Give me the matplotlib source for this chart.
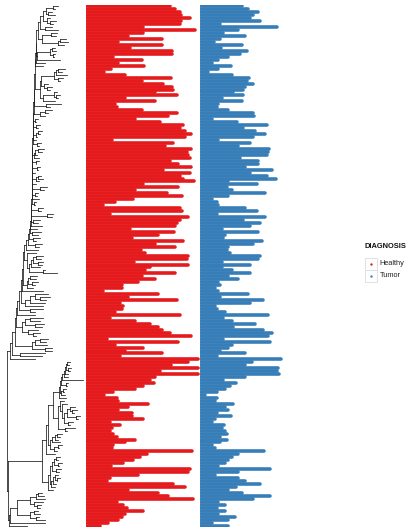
import numpy as np
import matplotlib.pyplot as plt
from matplotlib.collections import LineCollection
from matplotlib.patches import Rectangle

W, H = 408, 529

# per-sample values, top to bottom in tree order
healthy = [257, 272, 287, 290, 317, 290, 287, 177, 332, 177, 132, 232, 102, 232, 137, 264, 264, 87, 172, 100,
           180, 80, 60, 122, 260, 172, 237, 262, 267, 212, 277, 122, 212, 92,
           97, 172, 277, 252, 152, 227, 297, 287, 302, 320, 302, 82, 267, 242, 320, 307, 312, 317, 257, 282,
           320, 237, 317, 287, 297, 330, 177, 282, 152, 247, 292, 147, 92, 57,
           287, 292, 77, 310, 287, 277, 272, 137, 270, 220, 142, 297, 212, 272, 170, 182, 310, 307, 150, 310,
           197, 182, 272, 172, 212, 162, 112, 112, 57, 222, 132, 277, 107, 117,
           112, 92, 287, 77, 152, 197, 222, 232, 257, 320, 67, 280, 92, 177, 122, 232, 107, 342, 312, 260,
           342, 227, 342, 212, 197, 210, 177, 152, 87, 60, 97, 102, 192, 132, 102, 142,
           142, 177, 77, 107, 82, 77, 87, 97, 152, 122, 87, 82, 322, 187, 167, 147, 117, 80, 317, 312,
           162, 77, 67, 267, 302, 132, 222, 252, 327, 97, 117, 127, 177, 122, 112, 102, 72, 47]

tumor = [130, 150, 180, 165, 155, 185, 65, 235, 120, 75, 140, 65, 48, 130, 68, 145, 125, 88, 60, 40,
         98, 60, 30, 100, 152, 145, 165, 140, 135, 105, 135, 70, 130, 60,
         55, 90, 165, 168, 40, 115, 205, 135, 170, 200, 165, 60, 155, 120, 212, 210, 205, 125, 180, 180,
         140, 220, 155, 205, 232, 90, 175, 85, 100, 200, 90, 40, 55, 60,
         140, 175, 55, 200, 135, 185, 155, 70, 180, 80, 75, 190, 165, 90, 85, 95, 185, 180, 70, 155,
         70, 100, 155, 90, 118, 60, 65, 50, 60, 150, 65, 195, 155, 50,
         55, 80, 210, 75, 100, 170, 105, 195, 220, 210, 75, 215, 100, 90, 65, 140, 55, 248, 160, 140,
         240, 235, 242, 140, 75, 112, 95, 80, 55, 20, 55, 50, 103, 80, 90, 55,
         98, 50, 40, 78, 70, 80, 85, 65, 85, 65, 40, 50, 197, 118, 100, 90, 80, 60, 215, 120,
         50, 120, 140, 185, 112, 90, 130, 215, 165, 58, 80, 55, 80, 60, 110, 90, 40, 90]

# dendrogram: leaf tip depth, and depth where each leaf joins the next one
tip_x = [58, 55, 52, 55, 50, 56, 53, 52, 58, 57, 56, 66, 68, 64, 55, 56, 55, 54, 60, 45,
         43, 65, 62, 67, 63, 60, 48, 52, 50, 57, 60, 58, 55, 61, 50, 52, 48, 45, 38, 36,
         40, 38, 42, 40, 37, 36, 41, 39, 44, 42, 37, 39, 39, 36, 40, 38, 35, 41, 43, 39,
         36, 47, 44, 38, 37, 39, 36, 35, 43, 41, 53, 52, 40, 38, 42, 37, 41, 38, 40, 36,
         42, 39, 38,
         36, 43, 41, 43, 42, 40, 45, 57, 37, 36, 38, 35, 33, 43, 48, 50, 46, 45, 43, 43,
         35, 35, 43, 40, 44, 42, 38, 40, 36, 48, 46, 47, 52, 52, 45, 42, 35,
         70, 69, 71, 70, 68, 68, 83, 68, 67, 66, 64, 65, 66, 64, 67, 75, 77, 74, 80, 78,
         73, 70, 75, 67, 62, 60, 58, 60, 62, 59, 57, 55, 60, 58, 62, 59, 61, 59, 58, 60,
         57, 56, 55, 53, 42, 44, 45, 43, 41, 40, 38, 40, 39, 45, 45, 27]

join_x = [53, 46, 48, 43, 47, 50, 40, 45, 38, 51, 42, 60, 58, 36, 52, 50, 53, 37, 35.5, 35,
          34.5, 58, 56, 54, 58, 41, 44, 47, 40, 54, 56, 43, 34, 46, 33.5, 45, 40, 33, 35, 33,
          36, 32.8, 38, 36, 32.6, 32.5, 37, 32.4, 38, 35, 34, 32.3, 36, 32.2, 37, 32.1, 32, 38, 36, 31.9,
          31.8, 40, 31.7, 35, 31.6, 31.5, 34, 31.4, 38, 31.2, 47, 31, 33, 30.5, 30, 29.5, 32, 29, 33, 28,
          35, 26, 24,
          27, 36, 33, 38, 31, 29, 43, 23, 30, 28, 32, 27, 22, 21, 35, 40, 30, 25, 19, 30,
          17, 16, 30, 25, 35, 22, 28, 33, 15, 40, 35, 32, 45, 12, 20, 10, 7,
          67, 66, 68, 65, 64, 62, 61, 66, 60, 63, 61, 59, 53, 60, 62, 70, 72, 67, 76, 64,
          68, 58, 65, 48, 57, 55, 52, 50, 58, 54, 46, 42, 56, 54, 58, 52, 56, 50, 55, 57,
          53, 51, 48, 8, 38, 36, 30, 34, 37, 17, 34, 30, 36, 10, 9]

groups = ["Healthy", "Tumor"]
colors = ["#E41A1C", "#377EB8"]

n = len(healthy)
ys = np.arange(n)

fig = plt.figure(figsize=(W / 100, H / 100), dpi=100)


def px_axes(x0, x1, y0, y1):
    a = fig.add_axes([x0 / W, 1 - y1 / H, (x1 - x0) / W, (y1 - y0) / H])
    a.set_axis_off()
    a.set_ylim(n - 0.5, -0.5)
    return a


# tree
ax_t = px_axes(0, 86, 5, 527)
ax_t.set_xlim(0, 86)
segs = []


def clade(lo, hi):
    if lo == hi:
        return tip_x[lo], ys[lo]
    s = lo + int(np.argmin(join_x[lo:hi]))
    x = join_x[s]
    xl, yl = clade(lo, s)
    xr, yr = clade(s + 1, hi)
    segs.append([(x, yl), (xl, yl)])
    segs.append([(x, yr), (xr, yr)])
    segs.append([(x, yl), (x, yr)])
    return x, (yl + yr) / 2


clade(0, n - 1)
ax_t.add_collection(LineCollection(segs, colors="#1a1a1a", linewidths=0.55, capstyle="projecting"))

# bars
lw_px = 3.6
r = lw_px / 2 * 3  # cap radius in data units (1 px = 3 units)
for i, (vals, col) in enumerate(zip([healthy, tumor], colors)):
    x0 = 86 + i * 114
    ax = px_axes(x0, x0 + 114, 5, 527)
    ax.set_xlim(0, 342)
    v = np.asarray(vals, dtype=float)
    ax.hlines(ys, r * 0.6, np.maximum(v - r, r), colors=col, linewidth=lw_px * 0.72,
              capstyle="round")

# legend
lg = fig.add_axes([0, 0, 1, 1])
lg.set_axis_off()
lg.set_xlim(0, W)
lg.set_ylim(H, 0)
lg.text(364.5, 246, "DIAGNOSIS", fontsize=5.4, fontweight="bold", family="Liberation Sans",
        va="center", ha="left", color="#111111")
for j, (g, col) in enumerate(zip(groups, colors)):
    yc = 263.5 + j * 12
    lg.add_patch(Rectangle((364.5, yc - 6), 12.5, 12, facecolor="white", edgecolor="#dcdcdc", lw=0.6))
    lg.plot(370.7, yc, "o", color=col, ms=1.7, mec="none")
    lg.text(379.5, yc, g, fontsize=5.3, family="Liberation Sans", va="center", ha="left", color="#222222")

fig.savefig("out.png", dpi=100)
